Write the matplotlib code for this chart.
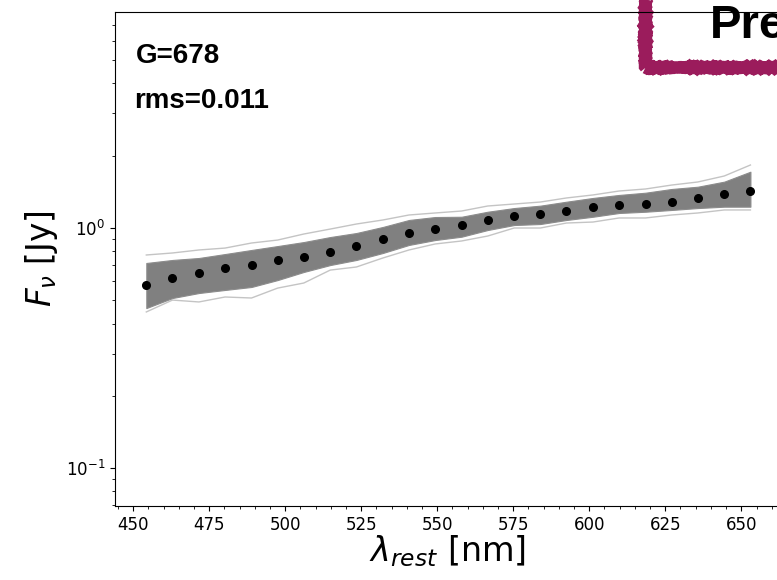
import numpy as np
import matplotlib
matplotlib.use('Agg')
import matplotlib.pyplot as plt
from matplotlib.patches import Rectangle

# wavelengths of the sampled points [nm]
wave = [454.3, 462.9, 471.6, 480.2, 488.9, 497.5, 506.1, 514.8, 523.4, 532.1,
        540.7, 549.3, 558.0, 566.6, 575.3, 583.9, 592.5, 601.2, 609.8, 618.5,
        627.1, 635.7, 644.4, 653.0]

# observed fluxes (black dots) [Jy]
flux = [0.579, 0.621, 0.651, 0.681, 0.701, 0.736, 0.759, 0.797, 0.841, 0.903,
        0.953, 0.993, 1.029, 1.080, 1.122, 1.147, 1.177, 1.220, 1.247, 1.259,
        1.283, 1.337, 1.389, 1.426]

# dense core of the model draws (grey band)
band_hi = [0.715, 0.736, 0.750, 0.779, 0.810, 0.841, 0.874, 0.917, 0.953, 1.010,
           1.080, 1.111, 1.114, 1.169, 1.211, 1.239, 1.287, 1.334, 1.373, 1.403,
           1.454, 1.486, 1.560, 1.716]
band_lo = [0.464, 0.511, 0.536, 0.552, 0.568, 0.607, 0.656, 0.701, 0.736, 0.787,
           0.850, 0.891, 0.920, 0.981, 1.029, 1.039, 1.080, 1.114, 1.155, 1.169,
           1.189, 1.211, 1.227, 1.227]

# outlying draws at the edges of the band
draw_hi = [0.772, 0.787, 0.810, 0.825, 0.866, 0.891, 0.944, 0.990, 1.039, 1.080,
           1.133, 1.155, 1.177, 1.235, 1.259, 1.283, 1.334, 1.373, 1.426, 1.454,
           1.510, 1.555, 1.647, 1.830]
draw_lo = [0.447, 0.501, 0.492, 0.516, 0.511, 0.562, 0.590, 0.668, 0.688, 0.750,
           0.810, 0.858, 0.883, 0.926, 1.000, 1.000, 1.049, 1.059, 1.101, 1.101,
           1.133, 1.155, 1.189, 1.189]

fig = plt.figure(figsize=(7.77, 5.8), dpi=100)
# right spine sits just past the figure edge
ax = fig.add_axes([115/777, 74/580, 664/777, 494/580])

ax.plot(wave, draw_hi, color='#c4c4c4', lw=1.0, zorder=1)
ax.plot(wave, draw_lo, color='#c4c4c4', lw=1.0, zorder=1)
ax.fill_between(wave, band_lo, band_hi, color='#808080', lw=0.8,
                edgecolor='#8c8c8c', zorder=1.5)
ax.plot(wave, flux, 'o', color='black', ms=5.5, zorder=3)

ax.set_yscale('log')
ax.set_ylim(0.0695, 7.94)
ax.set_xlim(444, 662.4)
ax.set_xticks(np.arange(450, 675, 25))
ax.xaxis.set_minor_locator(matplotlib.ticker.MultipleLocator(5))
ax.tick_params(labelsize=12)

ax.set_xlabel(r'$\lambda_{rest}$ [nm]', fontsize=24, labelpad=0)
ax.set_ylabel(r'$F_\nu$ [Jy]', fontsize=23.5, labelpad=4)

fig.text(136 / 777, 1 - 63 / 580, 'G=678', fontsize=20, fontweight='bold',
         family='Liberation Sans')
fig.text(134 / 777, 1 - 108 / 580, 'rms=0.011', fontsize=20,
         fontweight='bold', family='Liberation Sans')

# rough "Preliminary" stamp, cut off by the figure edge
box = Rectangle((645 / 777, 1 - 67 / 580), 0.5, 0.5, transform=fig.transFigure,
                fill=False, edgecolor='#9b1c5c', lw=9, clip_on=False, zorder=2)
box.set_sketch_params(scale=0.5, length=2, randomness=2)
ax.add_patch(box)
ax.text(710 / 777, 1 - 38 / 580, 'Preliminary', transform=fig.transFigure,
        fontsize=34, fontweight='bold', family='Liberation Sans',
        clip_on=False, zorder=4)

fig.savefig('out.png', dpi=100)
